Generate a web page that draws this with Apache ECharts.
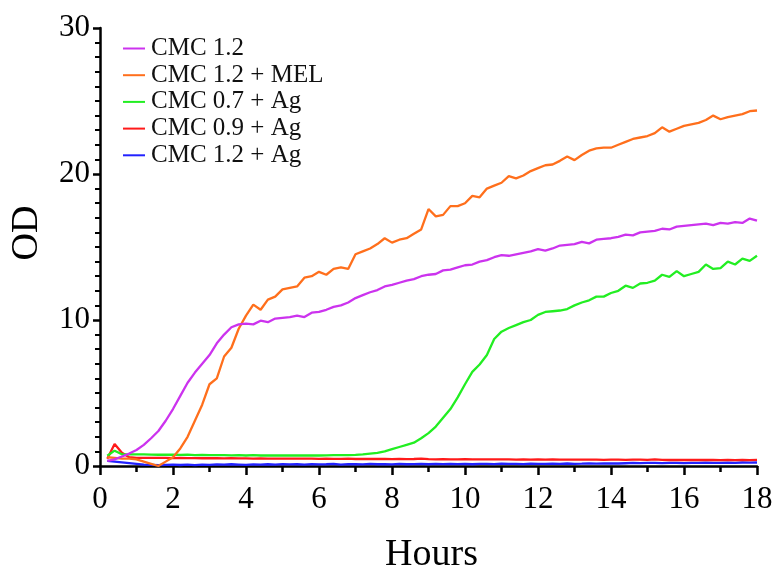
<!DOCTYPE html>
<html>
<head>
<meta charset="utf-8">
<script src="https://cdn.jsdelivr.net/npm/echarts@6/dist/echarts.min.js"></script>
<style>
html,body{margin:0;padding:0;background:#fff;}
#chart{width:776px;height:569px;}
</style>
</head>
<body>
<div id="chart"></div>
<script>
var seriesNames = ['CMC 1.2', 'CMC 1.2 + MEL', 'CMC 0.7 + Ag', 'CMC 0.9 + Ag', 'CMC 1.2 + Ag'];
var xTicks = [0, 2, 4, 6, 8, 10, 12, 14, 16, 18];
var yTicks = [0, 10, 20, 30];

var hours = [
  0.2,0.4,0.6,0.8,1.0,1.2,1.4,1.6,1.8,2.0,
  2.2,2.4,2.6,2.8,3.0,3.2,3.4,3.6,3.8,4.0,
  4.2,4.4,4.6,4.8,5.0,5.2,5.4,5.6,5.8,6.0,
  6.2,6.4,6.6,6.8,7.0,7.2,7.4,7.6,7.8,8.0,
  8.2,8.4,8.6,8.8,9.0,9.2,9.4,9.6,9.8,10.0,
  10.2,10.4,10.6,10.8,11.0,11.2,11.4,11.6,11.8,12.0,
  12.2,12.4,12.6,12.8,13.0,13.2,13.4,13.6,13.8,14.0,
  14.2,14.4,14.6,14.8,15.0,15.2,15.4,15.6,15.8,16.0,
  16.2,16.4,16.6,16.8,17.0,17.2,17.4,17.6,17.8,18.0
];

var cmc12 = [
  0.35,0.45,0.65,0.85,1.1,1.45,1.9,2.4,3.1,3.9,
  4.8,5.7,6.4,7.0,7.6,8.4,9.0,9.5,9.7,9.75,
  9.7,9.95,9.85,10.1,10.15,10.2,10.3,10.2,10.5,10.55,
  10.7,10.9,11.0,11.2,11.5,11.7,11.9,12.05,12.3,12.4,
  12.55,12.7,12.8,13.0,13.1,13.15,13.4,13.45,13.6,13.75,
  13.8,14.0,14.1,14.3,14.45,14.4,14.5,14.6,14.7,14.85,
  14.75,14.9,15.1,15.15,15.2,15.35,15.25,15.5,15.55,15.6,
  15.7,15.85,15.8,16.0,16.05,16.1,16.25,16.2,16.4,16.45,
  16.5,16.55,16.6,16.5,16.65,16.6,16.7,16.65,16.95,16.8
];
var cmc12mel = [
  0.6,0.55,0.5,0.5,0.45,0.3,0.15,0.0,0.3,0.6,
  1.2,2.0,3.1,4.2,5.6,6.0,7.5,8.1,9.4,10.3,
  11.05,10.7,11.4,11.6,12.1,12.2,12.3,12.9,13.0,13.3,
  13.1,13.5,13.6,13.5,14.5,14.7,14.9,15.2,15.6,15.3,
  15.5,15.6,15.9,16.2,17.6,17.1,17.2,17.8,17.8,18.0,
  18.5,18.4,19.0,19.2,19.4,19.85,19.7,19.9,20.2,20.4,
  20.6,20.65,20.9,21.2,20.95,21.3,21.6,21.75,21.8,21.8,
  22.0,22.2,22.4,22.5,22.6,22.8,23.2,22.9,23.1,23.3,
  23.4,23.5,23.7,24.0,23.75,23.9,24.0,24.1,24.3,24.35
];
var cmc07ag = [
  0.7,1.05,0.8,0.8,0.79,0.8,0.78,0.77,0.78,0.77,
  0.76,0.78,0.75,0.76,0.75,0.74,0.75,0.73,0.74,0.72,
  0.74,0.72,0.73,0.72,0.72,0.72,0.73,0.72,0.73,0.72,
  0.73,0.74,0.75,0.74,0.76,0.8,0.85,0.9,1.0,1.15,
  1.3,1.45,1.6,1.9,2.25,2.7,3.3,3.9,4.7,5.6,
  6.45,6.95,7.6,8.7,9.2,9.45,9.65,9.85,10.0,10.35,
  10.55,10.6,10.65,10.75,11.0,11.2,11.35,11.6,11.6,11.85,
  12.0,12.35,12.2,12.5,12.55,12.7,13.1,12.95,13.35,13.0,
  13.15,13.3,13.8,13.5,13.55,14.0,13.8,14.2,14.05,14.4
];
var cmc09ag = [
  0.5,1.5,0.9,0.6,0.56,0.55,0.55,0.56,0.55,0.54,
  0.55,0.54,0.54,0.53,0.54,0.53,0.52,0.53,0.52,0.52,
  0.51,0.52,0.51,0.5,0.51,0.5,0.5,0.51,0.5,0.49,
  0.5,0.49,0.49,0.5,0.48,0.49,0.48,0.48,0.49,0.47,
  0.48,0.47,0.48,0.5,0.47,0.46,0.47,0.46,0.46,0.47,
  0.46,0.45,0.46,0.45,0.46,0.45,0.44,0.45,0.44,0.45,
  0.44,0.45,0.44,0.43,0.44,0.43,0.44,0.43,0.42,0.43,
  0.43,0.42,0.43,0.44,0.42,0.45,0.42,0.41,0.42,0.41,
  0.42,0.41,0.41,0.42,0.4,0.41,0.4,0.41,0.4,0.42
];
var cmc12ag = [
  0.35,0.3,0.25,0.2,0.15,0.1,0.08,0.06,0.08,0.1,
  0.07,0.09,0.06,0.1,0.08,0.11,0.09,0.12,0.1,0.08,
  0.11,0.09,0.12,0.1,0.13,0.11,0.12,0.1,0.13,0.11,
  0.12,0.14,0.1,0.13,0.12,0.11,0.14,0.12,0.13,0.11,
  0.14,0.12,0.13,0.15,0.12,0.14,0.13,0.15,0.13,0.14,
  0.12,0.15,0.14,0.13,0.16,0.14,0.15,0.13,0.16,0.15,
  0.14,0.16,0.15,0.17,0.15,0.16,0.18,0.16,0.17,0.18,
  0.17,0.19,0.21,0.2,0.22,0.21,0.2,0.22,0.21,0.2,
  0.22,0.21,0.23,0.22,0.21,0.23,0.22,0.24,0.23,0.24
];

var allValues = [cmc12, cmc12mel, cmc07ag, cmc09ag, cmc12ag];
var colors = ['#cc33ee', '#ff6f1c', '#22ee22', '#ff1a1a', '#2222ff'];
var FONT = 'Liberation Serif';

function pairs(vals) {
  return hours.map(function (h, i) { return [h, vals[i]]; });
}

var series = seriesNames.map(function (name, k) {
  return {
    name: name,
    type: 'line',
    data: pairs(allValues[k]),
    symbol: 'none',
    smooth: false,
    lineStyle: { color: colors[k], width: 2.3 },
    itemStyle: { color: colors[k] },
    z: 5 - k + 2,
    animation: false
  };
});

var chart = echarts.init(document.getElementById('chart'), null, { renderer: 'canvas' });
chart.setOption({
  backgroundColor: '#ffffff',
  animation: false,
  grid: { left: 100, right: 19, top: 28, bottom: 103, containLabel: false, outerBoundsMode: 'none' },
  legend: {
    orient: 'vertical',
    left: 118,
    top: 31,
    icon: 'rect',
    itemWidth: 22,
    itemHeight: 2,
    itemGap: 1.7,
    textStyle: { fontFamily: FONT, fontSize: 25, color: '#111', lineHeight: 23, padding: [0, 0, 0, 1] },
    data: seriesNames
  },
  xAxis: {
    type: 'value',
    min: xTicks[0],
    max: xTicks[xTicks.length - 1],
    interval: xTicks[1] - xTicks[0],
    name: 'Hours',
    nameLocation: 'middle',
    nameGap: 70,
    nameTextStyle: { fontFamily: FONT, fontSize: 38, color: '#000', padding: [0, 0, 0, 6] },
    axisLine: { show: true, onZero: false, lineStyle: { color: '#000', width: 2.5 } },
    axisTick: { show: true, inside: false, length: 9, lineStyle: { color: '#000', width: 2.5 } },
    minorTick: { show: true, splitNumber: 2, length: 6, lineStyle: { color: '#000', width: 2.5 } },
    splitLine: { show: false },
    minorSplitLine: { show: false },
    axisLabel: { fontFamily: FONT, fontSize: 31, color: '#000', margin: 18 }
  },
  yAxis: {
    type: 'value',
    min: yTicks[0],
    max: yTicks[yTicks.length - 1],
    interval: yTicks[1] - yTicks[0],
    name: 'OD',
    nameLocation: 'middle',
    nameGap: 54,
    nameTextStyle: { fontFamily: FONT, fontSize: 38, color: '#000', padding: [0, 0, 0, 28] },
    axisLine: { show: true, onZero: false, lineStyle: { color: '#000', width: 2.5 } },
    axisTick: { show: true, inside: false, length: 7, lineStyle: { color: '#000', width: 2.5 } },
    minorTick: { show: true, splitNumber: 10, length: 5, lineStyle: { color: '#000', width: 2 } },
    splitLine: { show: false },
    minorSplitLine: { show: false },
    axisLabel: { fontFamily: FONT, fontSize: 31, color: '#000', margin: 10 }
  },
  series: series
});
</script>
</body>
</html>
